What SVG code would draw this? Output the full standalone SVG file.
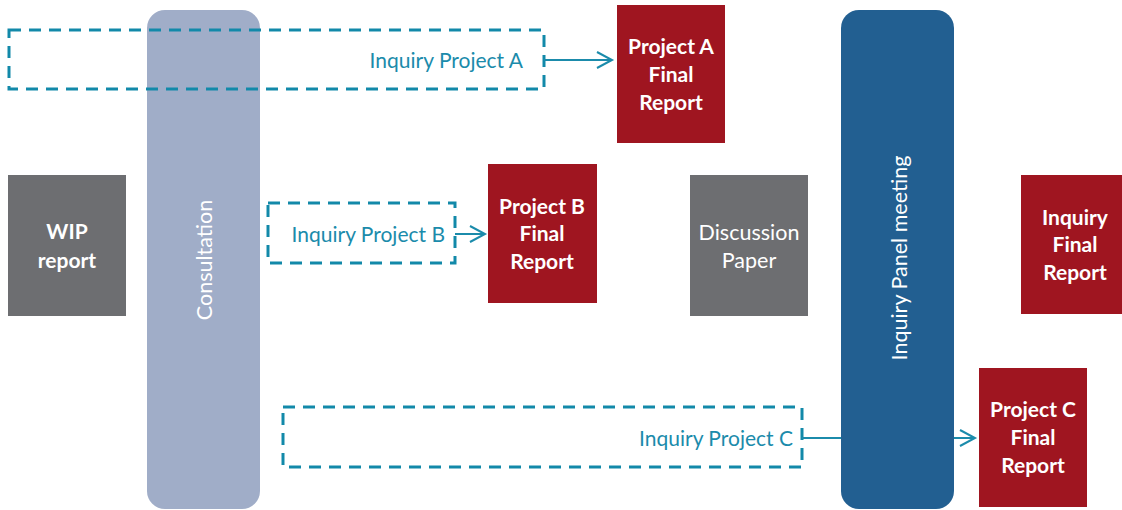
<svg xmlns="http://www.w3.org/2000/svg" width="1122" height="510" viewBox="0 0 1122 510">
<style>
.dash{fill:none;stroke:#1289a9;stroke-width:3;stroke-dasharray:12 8}
.lbl{font-family:Lato,"Liberation Sans",sans-serif;font-size:21px;fill:#1b8bab}
.w{font-family:Lato,"Liberation Sans",sans-serif;font-size:21.5px;fill:#ffffff;text-anchor:middle}
.b{font-weight:bold;font-size:21px}
.red{fill:#9f1520}
.gray{fill:#6d6e71}
.conn{fill:none;stroke:#1b8bab;stroke-width:2}
</style>
<defs>
<marker id="arr" markerWidth="20" markerHeight="20" refX="17" refY="10" orient="auto" markerUnits="userSpaceOnUse">
<path d="M2,2 L17,10 L2,18" fill="none" stroke="#1b8bab" stroke-width="2"/>
</marker>
</defs>
<g id="consultation">
<rect x="147" y="10" width="113" height="499" rx="18" fill="#a0adc8"/>
<text class="w" transform="translate(212,260) rotate(-90)">Consultation</text>
</g>
<g id="panel">
<rect x="841" y="10" width="113" height="499" rx="18" fill="#225f91"/>
<text class="w" transform="translate(907,258) rotate(-90)">Inquiry Panel meeting</text>
</g>
<g id="projA">
<rect class="dash" x="9" y="30" width="535" height="59"/>
<text class="lbl" x="523" y="68" text-anchor="end">Inquiry Project A</text>
</g>
<g id="projB">
<rect class="dash" x="268" y="203" width="187" height="60"/>
<text class="lbl" x="445" y="242" text-anchor="end">Inquiry Project B</text>
</g>
<g id="projC">
<rect class="dash" x="283" y="407" width="519" height="60"/>
<text class="lbl" x="793" y="446" text-anchor="end">Inquiry Project C</text>
</g>
<g id="finalA">
<rect class="red" x="617" y="5" width="108" height="138"/>
<text class="w b"><tspan x="671" y="54">Project A</tspan><tspan x="671" y="82">Final</tspan><tspan x="671" y="110">Report</tspan></text>
</g>
<g id="finalB">
<rect class="red" x="488" y="164" width="109" height="139"/>
<text class="w b"><tspan x="542" y="214">Project B</tspan><tspan x="542" y="241">Final</tspan><tspan x="542" y="269">Report</tspan></text>
</g>
<g id="finalC">
<rect class="red" x="979" y="368" width="108" height="139"/>
<text class="w b"><tspan x="1033" y="417">Project C</tspan><tspan x="1033" y="445">Final</tspan><tspan x="1033" y="473">Report</tspan></text>
</g>
<g id="finalInquiry">
<rect class="red" x="1021" y="175" width="101" height="139"/>
<text class="w b"><tspan x="1075" y="225">Inquiry</tspan><tspan x="1075" y="252">Final</tspan><tspan x="1075" y="280">Report</tspan></text>
</g>
<g id="wip">
<rect class="gray" x="8" y="175" width="118" height="141"/>
<text class="w b"><tspan x="67" y="239">WIP</tspan><tspan x="67" y="268">report</tspan></text>
</g>
<g id="discussion">
<rect class="gray" x="690" y="175" width="118" height="141"/>
<text class="w"><tspan x="749" y="240">Discussion</tspan><tspan x="749" y="268">Paper</tspan></text>
</g>
<g id="connectors">
<line class="conn" x1="544" y1="60" x2="612" y2="60" marker-end="url(#arr)"/>
<line class="conn" x1="455" y1="234" x2="485" y2="234" marker-end="url(#arr)"/>
<line class="conn" x1="802" y1="438" x2="841" y2="438"/>
<line class="conn" x1="954" y1="438" x2="975" y2="438" marker-end="url(#arr)"/>
</g>
</svg>
